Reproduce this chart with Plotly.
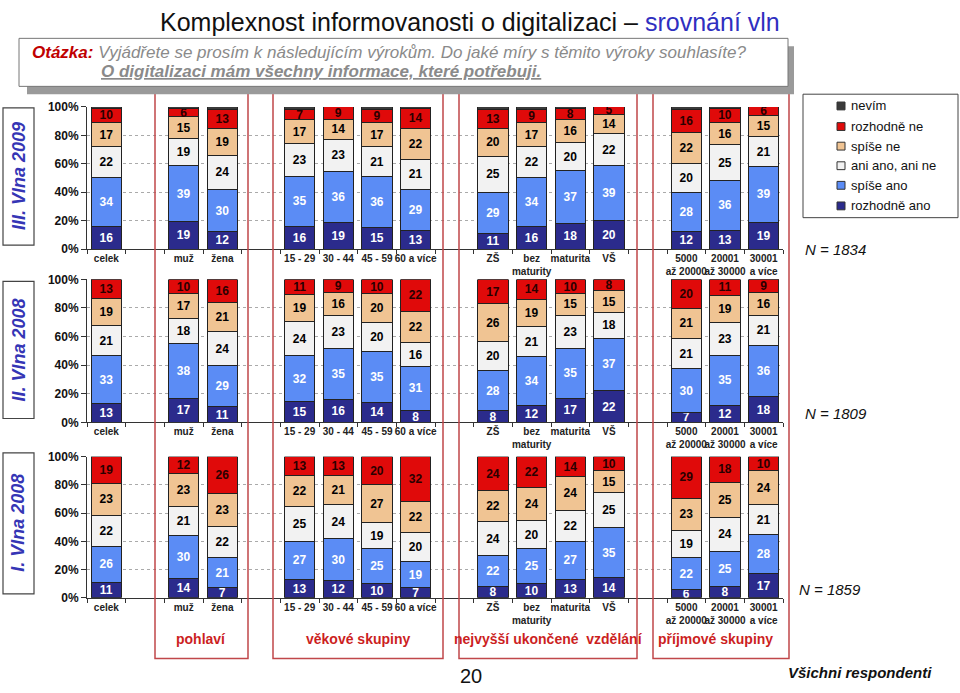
import plotly.graph_objects as go

# ---------------- data ----------------
groups = [
    ["celek"],
    ["muž", "žena"],
    ["15 - 29", "30 - 44", "45 - 59", "60 a více"],
    ["ZŠ", "bez<br>maturity", "maturita", "VŠ"],
    ["5000<br>až 20000", "20001<br>až 30000", "30001<br>a více"],
]
group_titles = ["pohlaví", "věkové skupiny", "nejvyšší ukončené  vzdělání", "příjmové skupiny"]

series = ["rozhodně ano", "spíše ano", "ani ano, ani ne", "spíše ne", "rozhodně ne", "nevím"]
colors = ["#2b2b8c", "#5b8cf5", "#f2f2f2", "#f0c493", "#e00a0a", "#3a3a3a"]
text_colors = ["white", "white", "black", "black", "#2a0000", "white"]

waves = ["III. Vlna 2009", "II. Vlna 2008", "I. Vlna 2008"]
n_labels = ["N = 1834", "N = 1809", "N = 1859"]

# values per wave: one list per series, order of categories as in groups
w2009 = {
    "rozhodně ano":    [16, 19, 12, 16, 19, 15, 13, 11, 16, 18, 20, 12, 13, 19],
    "spíše ano":       [34, 39, 30, 35, 36, 36, 29, 29, 34, 37, 39, 28, 36, 39],
    "ani ano, ani ne": [22, 19, 24, 23, 23, 21, 21, 25, 22, 20, 22, 20, 25, 21],
    "spíše ne":        [17, 15, 19, 17, 14, 17, 22, 20, 17, 16, 14, 22, 16, 15],
    "rozhodně ne":     [10, 6, 13, 7, 9, 9, 14, 13, 9, 8, 5, 16, 10, 6],
    "nevím":           [1, 1, 2, 2, 0, 2, 1, 2, 2, 1, 0, 2, 1, 0],
}
w2008b = {
    "rozhodně ano":    [13, 17, 11, 15, 16, 14, 8, 8, 12, 17, 22, 7, 12, 18],
    "spíše ano":       [33, 38, 29, 32, 35, 35, 31, 28, 34, 35, 37, 30, 35, 36],
    "ani ano, ani ne": [21, 18, 24, 24, 23, 20, 16, 20, 21, 23, 18, 21, 23, 21],
    "spíše ne":        [19, 17, 21, 19, 16, 20, 22, 26, 19, 15, 15, 21, 19, 16],
    "rozhodně ne":     [13, 10, 16, 11, 9, 10, 22, 17, 14, 10, 8, 20, 11, 9],
    "nevím":           [0, 0, 0, 0, 0, 0, 0, 0, 0, 0, 0, 0, 0, 0],
}
w2008a = {
    "rozhodně ano":    [11, 14, 7, 13, 12, 10, 7, 8, 10, 13, 14, 6, 8, 17],
    "spíše ano":       [26, 30, 21, 27, 30, 25, 19, 22, 25, 27, 35, 22, 25, 28],
    "ani ano, ani ne": [22, 21, 22, 25, 24, 19, 20, 24, 20, 22, 25, 19, 24, 21],
    "spíše ne":        [23, 23, 23, 22, 21, 27, 22, 22, 24, 24, 15, 23, 25, 24],
    "rozhodně ne":     [19, 12, 26, 13, 13, 20, 32, 24, 22, 14, 10, 29, 18, 10],
    "nevím":           [0, 0, 0, 0, 0, 0, 0, 0, 0, 0, 0, 0, 0, 0],
}
wave_data = [w2009, w2008b, w2008a]

# ---------------- layout helpers ----------------
W, H = 960, 693
def px(x): return x / W
def py(y): return 1 - y / H

# slot positions: one empty slot between groups
cats, xpos = [], []
slot = 0
for gi, g in enumerate(groups):
    for c in g:
        cats.append(c)
        xpos.append(slot)
        slot += 1
    if gi < len(groups) - 1:
        slot += 1
nslots = slot

row_domains = [(py(247), py(102)), (py(424), py(278)), (py(603), py(459))]
xdom = (px(87), px(783))

fig = go.Figure()
for r, data in enumerate(wave_data):
    xa = "x" if r == 0 else f"x{r+1}"
    ya = "y" if r == 0 else f"y{r+1}"
    for s, name in enumerate(series):
        vals = data[name]
        fig.add_trace(go.Bar(
            x=xpos, y=vals, name=name, xaxis=xa, yaxis=ya,
            marker=dict(color=colors[s], line=dict(color="#222222", width=1)),
            width=0.78,
            text=[str(v) if (v > 0 and name != "nevím") else "" for v in vals],
            texttemplate="<b>%{text}</b>",
            textposition="inside", insidetextanchor="middle", textangle=0,
            insidetextfont=dict(color=text_colors[s], size=12, family="Arial, Liberation Sans"),
            showlegend=False, hoverinfo="skip",
        ))

lay = dict(
    width=W, height=H, barmode="stack", barnorm="percent",
    margin=dict(l=0, r=0, t=0, b=0),
    paper_bgcolor="white", plot_bgcolor="rgba(0,0,0,0)",
    uniformtext=dict(mode="show", minsize=12),
    font=dict(family="Arial, Liberation Sans", color="#111111"),
)
for r in range(3):
    xk = "xaxis" if r == 0 else f"xaxis{r+1}"
    yk = "yaxis" if r == 0 else f"yaxis{r+1}"
    yname = "y" if r == 0 else f"y{r+1}"
    xname = "x" if r == 0 else f"x{r+1}"
    lay[xk] = dict(
        domain=list(xdom), anchor=yname, range=[-0.5, nslots - 0.5],
        tickvals=xpos, ticktext=[f"<b>{c}</b>" for c in cats], tickangle=0,
        tickfont=dict(size=10, color="#222222"), ticks="", ticklen=0,
        minor=dict(ticks="outside", ticklen=4, tickcolor="#333333", tick0=-0.5, dtick=1, showgrid=False),
        showline=True, linecolor="#333333", linewidth=1, showgrid=False, zeroline=False,
        fixedrange=True,
    )
    lay[yk] = dict(
        domain=list(row_domains[r]), anchor=xname, range=[0, 100],
        tickvals=[0, 20, 40, 60, 80, 100],
        ticktext=[f"<b>{v}%</b>" for v in [0, 20, 40, 60, 80, 100]],
        tickfont=dict(size=12, color="#111111"),
        ticks="outside", ticklen=5, tickcolor="#333333",
        showline=True, linecolor="#333333", linewidth=1,
        showgrid=True, gridcolor="#aaaaaa", griddash="dot", gridwidth=1,
        zeroline=False, fixedrange=True,
    )
fig.update_layout(**lay)

shapes = []
annotations = []

# red group boxes
for (x0, x1), t, tx in zip([(155, 248), (273, 443), (459, 637), (653, 789)], group_titles,
                           [201, 358, 548, 715]):
    shapes.append(dict(type="rect", xref="paper", yref="paper", x0=px(x0), x1=px(x1),
                       y0=py(665), y1=py(80), line=dict(color="#c0474a", width=1.5)))
    annotations.append(dict(xref="paper", yref="paper", x=px(tx), y=py(645), text=f"<b>{t}</b>",
                            showarrow=False, font=dict(size=14, color="#cc1f1f", family="Arial, Liberation Sans"),
                            xanchor="center", yanchor="middle"))

# question box with shadow
shapes.append(dict(type="rect", xref="paper", yref="paper", x0=px(27), x1=px(794), y0=py(89), y1=py(40),
                   fillcolor="#9a9a9a", line=dict(width=0)))
shapes.append(dict(type="rect", xref="paper", yref="paper", x0=px(19), x1=px(788), y0=py(81), y1=py(32),
                   fillcolor="white", line=dict(color="#777777", width=1)))
annotations.append(dict(xref="paper", yref="paper", x=px(30), y=py(46), xanchor="left", yanchor="middle",
                        showarrow=False,
                        text="<b><i><span style='color:#c00000'>Otázka:</span></i></b> <i>Vyjádřete se prosím k následujícím výrokům. Do jaké míry s těmito výroky souhlasíte?</i>",
                        font=dict(size=17, color="#8a8a8a", family="Liberation Sans Narrow, Arial Narrow, Arial")))
annotations.append(dict(xref="paper", yref="paper", x=px(99), y=py(66), xanchor="left", yanchor="middle",
                        showarrow=False,
                        text="<b><i><u>O digitalizaci mám všechny informace, které potřebuji.</u></i></b>",
                        font=dict(size=17, color="#8a8a8a", family="Liberation Sans Narrow, Arial Narrow, Arial")))

# title
annotations.append(dict(xref="paper", yref="paper", x=px(470), y=py(15), xanchor="center", yanchor="middle",
                        showarrow=False,
                        text="Komplexnost informovanosti o digitalizaci – <span style='color:#2f2fc0'>srovnání vln</span>",
                        font=dict(size=25, color="#111111", family="Liberation Sans Narrow, Arial Narrow, Arial")))

# wave label boxes
for (y0, y1), w in zip([(103, 243), (280, 420), (455, 599)], waves):
    shapes.append(dict(type="rect", xref="paper", yref="paper", x0=px(3), x1=px(34), y0=py(y1), y1=py(y0),
                       line=dict(color="#444444", width=1.2)))
    annotations.append(dict(xref="paper", yref="paper", x=px(18.5), y=py((y0 + y1) / 2), textangle=-90,
                            text=f"<b><i>{w}</i></b>", showarrow=False,
                            font=dict(size=18, color="#3535b5", family="Arial, Liberation Sans"),
                            xanchor="center", yanchor="middle"))

# N labels
for (x, y), t in zip([(803, 247), (803, 415), (797, 595)], n_labels):
    annotations.append(dict(xref="paper", yref="paper", x=px(x), y=py(y), xanchor="left", yanchor="middle",
                            text=f"<i>{t}</i>", showarrow=False,
                            font=dict(size=15, color="#111111", family="Arial, Liberation Sans")))

# legend
shapes.append(dict(type="rect", xref="paper", yref="paper", x0=px(803), x1=px(958), y0=py(215), y1=py(89),
                   line=dict(color="#444444", width=1), fillcolor="white"))
leg_y = [101, 122, 142, 162, 182, 203]
for i, s in enumerate(reversed(range(len(series)))):
    y = leg_y[i]
    shapes.append(dict(type="rect", xref="paper", yref="paper", x0=px(837), x1=px(845), y0=py(y + 4), y1=py(y - 4),
                       fillcolor=colors[s], line=dict(color="#333333", width=1)))
    annotations.append(dict(xref="paper", yref="paper", x=px(849), y=py(y), xanchor="left", yanchor="middle",
                            text=series[s], showarrow=False,
                            font=dict(size=13, color="#111111", family="Arial, Liberation Sans")))

# footer
annotations.append(dict(xref="paper", yref="paper", x=px(471), y=py(683), xanchor="center", yanchor="middle",
                        text="20", showarrow=False, font=dict(size=20, color="#111111", family="Arial, Liberation Sans")))
annotations.append(dict(xref="paper", yref="paper", x=px(860), y=py(679), xanchor="center", yanchor="middle",
                        text="<b><i>Všichni respondenti</i></b>", showarrow=False,
                        font=dict(size=15, color="#111111", family="Arial, Liberation Sans")))

fig.update_layout(shapes=shapes, annotations=annotations)
fig.write_html("out.html")
